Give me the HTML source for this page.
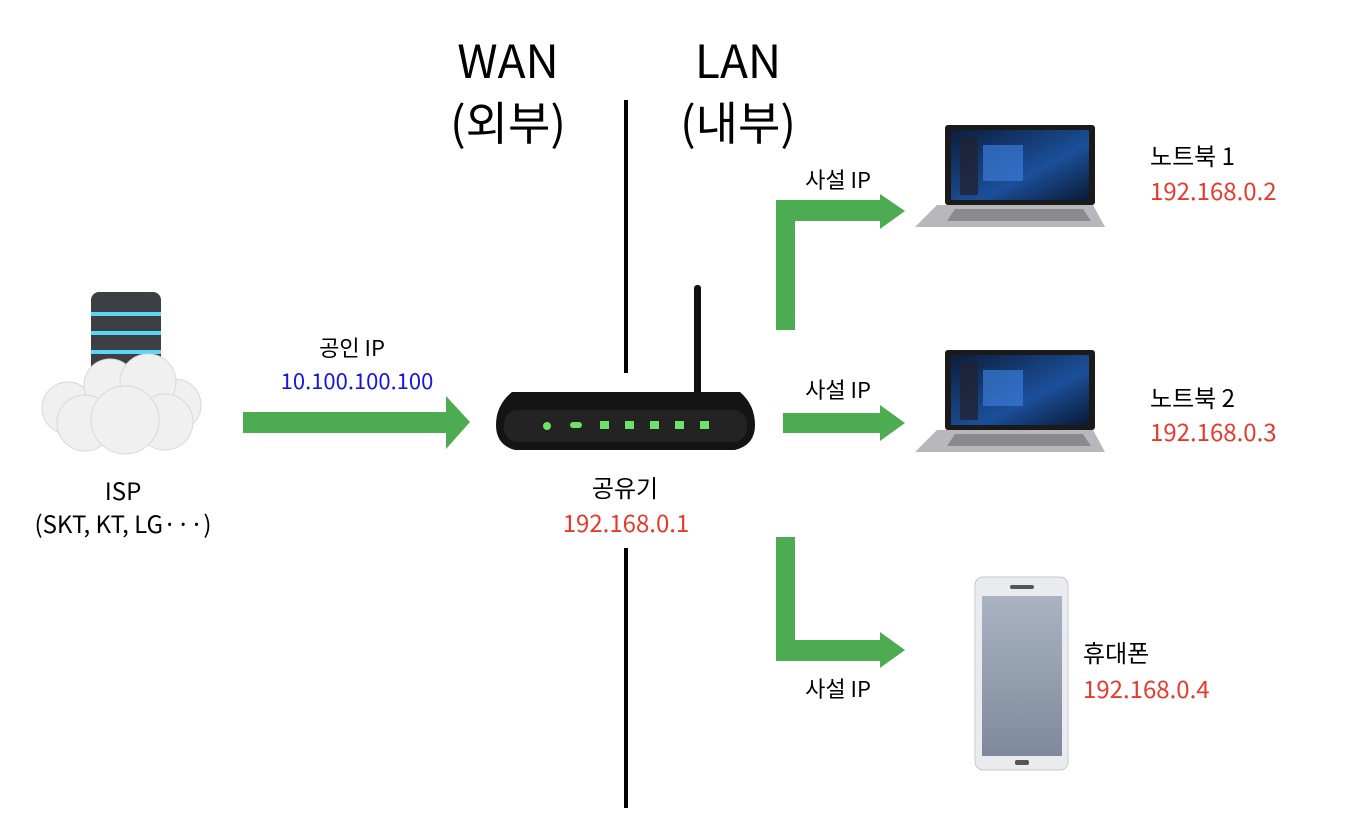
<!DOCTYPE html>
<html><head><meta charset="utf-8"><style>
body{margin:0;width:1354px;height:834px;background:#fff;overflow:hidden}
svg text{font-family:"Noto Sans CJK KR","Liberation Sans",sans-serif}
</style></head><body>
<svg width="1354" height="834" viewBox="0 0 1354 834">
<defs>
<linearGradient id="scr" x1="0" y1="0" x2="1" y2="1"><stop offset="0" stop-color="#0b1e3c"/><stop offset=".6" stop-color="#1b4f9a"/><stop offset="1" stop-color="#0a1a35"/></linearGradient>
<linearGradient id="ph" x1="0" y1="0" x2="0" y2="1"><stop offset="0" stop-color="#a9b3c2"/><stop offset="1" stop-color="#7e8a9c"/></linearGradient>
<g id="lap">
<rect x="30" y="0" width="150" height="80" rx="3" fill="#1a1a1a"/>
<rect x="36" y="5" width="138" height="70" fill="url(#scr)"/>
<rect x="45" y="12" width="18" height="58" fill="#223" opacity=".8"/>
<rect x="68" y="20" width="40" height="36" fill="#3a7bd5" opacity=".7"/>
<polygon points="22,80 178,80 190,102 0,102" fill="#b8b8bc"/>
<polygon points="40,84 168,84 176,96 32,96" fill="#8a8a8e"/>
</g>
</defs>
<g fill="#000" text-anchor="middle">
<text x="508" y="78" font-size="46">WAN</text>
<text x="508" y="140" font-size="46">(외부)</text>
<text x="738" y="78" font-size="46">LAN</text>
<text x="738" y="140" font-size="46">(내부)</text>
</g>
<rect x="624" y="100" width="4" height="273" fill="#000"/>
<rect x="624" y="548" width="4" height="260" fill="#000"/>
<g fill="#4dab52">
<rect x="243" y="412" width="205" height="21"/><polygon points="446,396 470,422 446,449"/>
<rect x="776" y="200" width="19" height="130"/><rect x="776" y="200" width="106" height="21"/><polygon points="880,194 905,211 880,229"/>
<rect x="783" y="413" width="99" height="20"/><polygon points="880,405 905,423 880,441"/>
<rect x="776" y="537" width="19" height="124"/><rect x="776" y="640" width="106" height="21"/><polygon points="880,632 905,650 880,668"/>
</g>
<!-- ISP -->
<rect x="91" y="292" width="70" height="90" rx="8" fill="#3d3f45"/>
<g fill="#5bd7f5"><rect x="91" y="312" width="70" height="4"/><rect x="91" y="331" width="70" height="4"/><rect x="91" y="350" width="70" height="4"/></g>
<g fill="#f0f0f0" stroke="#d8d8d8"><circle cx="68" cy="408" r="26"/><circle cx="175" cy="405" r="26"/><circle cx="110" cy="385" r="26"/><circle cx="148" cy="382" r="28"/><circle cx="85" cy="423" r="28"/><circle cx="165" cy="422" r="28"/><circle cx="125" cy="420" r="34"/></g>
<g font-size="24" text-anchor="middle"><text x="123" y="500">ISP</text><text x="123" y="533">(SKT, KT, LG···)</text></g>
<g text-anchor="middle" font-size="22"><text x="352" y="356">공인 IP</text><text x="357" y="389" fill="#1515e6">10.100.100.100</text></g>
<!-- router -->
<rect x="694" y="285" width="7" height="110" rx="3" fill="#111"/>
<path d="M512 392 L740 392 Q755 405 755 425 Q755 445 735 450 L515 450 Q496 445 496 425 Q496 405 512 392Z" fill="#141414"/>
<rect x="504" y="410" width="243" height="32" rx="14" fill="#232323"/>
<g fill="#6fe06a"><circle cx="547" cy="426" r="4"/><rect x="570" y="422" width="12" height="6" rx="3"/><rect x="600" y="421" width="9" height="8"/><rect x="625" y="421" width="9" height="8"/><rect x="650" y="421" width="9" height="8"/><rect x="675" y="421" width="9" height="8"/><rect x="700" y="421" width="9" height="8"/></g>
<g text-anchor="middle" font-size="24"><text x="625" y="497">공유기</text><text x="626" y="532" fill="#e8392b">192.168.0.1</text></g>
<g text-anchor="middle" font-size="22"><text x="838" y="188">사설 IP</text><text x="838" y="398">사설 IP</text><text x="838" y="697">사설 IP</text></g>
<use href="#lap" transform="translate(915,125)"/>
<use href="#lap" transform="translate(915,350)"/>
<g font-size="24"><text x="1150" y="165">노트북 1</text><text x="1150" y="200" fill="#e8392b">192.168.0.2</text>
<text x="1150" y="407">노트북 2</text><text x="1150" y="441" fill="#e8392b">192.168.0.3</text>
<text x="1083" y="662">휴대폰</text><text x="1083" y="698" fill="#e8392b">192.168.0.4</text></g>
<rect x="975" y="577" width="93" height="193" rx="8" fill="#e9ebee" stroke="#c8c8cc"/>
<rect x="982" y="596" width="80" height="160" fill="url(#ph)"/>
<rect x="1010" y="585" width="24" height="4" rx="2" fill="#555"/>
<rect x="1015" y="760" width="14" height="5" rx="2" fill="#555"/>
</svg>
</body></html>
